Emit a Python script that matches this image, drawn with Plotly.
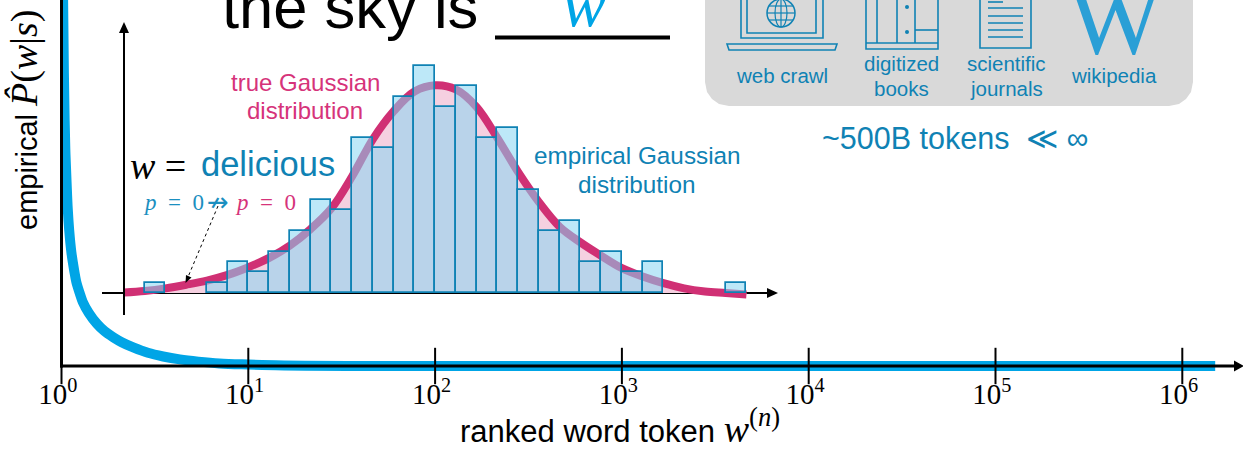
import plotly.graph_objects as go

W, H = 1243, 450

# --- data ---
rank = [1, 1.01, 1.02, 1.03, 1.04, 1.05, 1.065, 1.08, 1.1, 1.13, 1.17, 1.2, 1.25, 1.3, 1.4, 1.55, 1.7, 1.9, 2.1, 2.44, 2.9, 3.5, 4.3, 5.4, 7, 10, 14, 20, 50, 100, 1000, 10000, 100000, 1000000, 1500000]
prob = [1.6, 1.3, 1.0, 0.8, 0.67, 0.58, 0.5, 0.43, 0.37, 0.31, 0.26, 0.23, 0.2, 0.175, 0.145, 0.115, 0.095, 0.078, 0.065, 0.05, 0.036, 0.026, 0.018, 0.012, 0.007, 0.004, 0.002, 0.001, 0, 0, 0, 0, 0, 0, 0]
decades = [1, 10, 100, 1000, 10000, 100000, 1000000]
decade_base = [0, 0, 0, 0, 0, 0, 0]
decade_labels = ["10<sup>0</sup>", "10<sup>1</sup>", "10<sup>2</sup>", "10<sup>3</sup>", "10<sup>4</sup>", "10<sup>5</sup>", "10<sup>6</sup>"]
bin_index = list(range(29))
bin_counts = [1, 0, 0, 1, 3, 2, 4, 6, 9, 8, 15, 14, 19, 22, 18, 20, 15, 16, 10, 6, 7, 3, 4, 2, 3, 0, 0, 0, 1]
true_u = [-1, 0, 1, 2, 3, 4, 5, 6, 7, 8, 9, 10, 11, 12, 13, 14, 15, 16, 17, 18, 19, 20, 21, 22, 23, 24, 25, 26, 27, 28, 29]
true_v = [0.05, 0.2, 0.45, 0.8, 1.2, 1.75, 2.5, 3.4, 4.6, 6.2, 8.2, 11.3, 14.9, 17.6, 19.5, 20.1, 19.7, 18.0, 15.0, 11.7, 8.8, 6.4, 4.9, 3.6, 2.4, 1.6, 0.95, 0.45, 0.15, 0.0, -0.15]

PINK = "#d03074"
TEAL = "#0f82b4"
BLUE = "#00a5e6"
SANS = "Liberation Sans, Arial, sans-serif"
MATH = "Liberation Serif, serif"

def px(x): return x / W
def py(y): return 1 - y / H

fig = go.Figure()

# main Zipf curve
fig.add_trace(go.Scatter(x=rank, y=prob, mode="lines", line=dict(color=BLUE, width=10, shape="spline"),
                         cliponaxis=False, showlegend=False, hoverinfo="skip"))
# ticks crossing the main axis
fig.add_trace(go.Scatter(x=decades, y=decade_base, mode="markers", cliponaxis=False,
                         marker=dict(symbol="line-ns", size=26, line=dict(color="black", width=2)),
                         showlegend=False, hoverinfo="skip"))
# true Gaussian (below bars)
fig.add_trace(go.Scatter(x=true_u, y=true_v, mode="lines", line=dict(color=PINK, width=8, shape="spline"),
                         fill="tozeroy", fillcolor="rgba(245,208,224,1)", xaxis="x2", yaxis="y2",
                         cliponaxis=False, showlegend=False, hoverinfo="skip"))
# empirical histogram (above curve)
bx = [i + 0.5 for i, c in zip(bin_index, bin_counts) if c > 0]
by = [c for c in bin_counts if c > 0]
fig.add_trace(go.Bar(x=bx, y=by, width=1, marker=dict(color="rgba(135,213,242,0.55)", line=dict(color=TEAL, width=1.7)),
                     xaxis="x3", yaxis="y3", showlegend=False, hoverinfo="skip"))

x0_main, y_zero, y_bottom = 61.5, 366, 374
log_right = (W - x0_main) / 186.8
u_left = (124 - 144.7) / 20.75
u_right = (777 - 144.7) / 20.75
v_bot = (293 - 315) / 10.33
v_top = (293 - 24) / 10.33
inset_x = [px(124), px(777)]
inset_y = [py(315), py(24)]
uv = dict(range=[u_left, u_right], domain=inset_x, visible=False, fixedrange=True)
vv = dict(range=[v_bot, v_top], domain=inset_y, visible=False, fixedrange=True)

fig.update_layout(
    width=W, height=H, margin=dict(l=0, r=0, t=0, b=0, autoexpand=False), autosize=False,
    paper_bgcolor="white", plot_bgcolor="rgba(0,0,0,0)", bargap=0, showlegend=False,
    xaxis=dict(type="log", domain=[px(x0_main), 1], range=[0, log_right], showgrid=False, zeroline=False,
               showline=False, ticks="", tickmode="array", tickvals=decades,
               ticktext=[t + "\u00a0" for t in decade_labels], ticklabelstandoff=0,
               tickfont=dict(family=MATH, size=29, color="black"), fixedrange=True),
    yaxis=dict(domain=[py(y_bottom), 1], range=[-(y_bottom - y_zero) / y_zero, 1], showgrid=False, zeroline=False,
               showline=False, ticks="", showticklabels=False, fixedrange=True),
    xaxis2=dict(anchor="y2", **uv), yaxis2=dict(anchor="x2", **vv),
    xaxis3=dict(anchor="y3", **uv), yaxis3=dict(anchor="x3", **vv),
)

def line(x0, y0, x1, y1, color="black", width=2, dash="solid", layer="above"):
    return dict(type="line", xref="paper", yref="paper", x0=px(x0), y0=py(y0), x1=px(x1), y1=py(y1),
                line=dict(color=color, width=width, dash=dash), layer=layer)

def poly(points, color, layer="above"):
    d = "M" + " L".join(f"{px(a):.5f},{py(b):.5f}" for a, b in points) + " Z"
    return dict(type="path", xref="paper", yref="paper", path=d, fillcolor=color, line=dict(width=0), layer=layer)

def rect(x0, y0, x1, y1, color=TEAL, width=1.6):
    return dict(type="rect", xref="paper", yref="paper", x0=px(x0), y0=py(y0), x1=px(x1), y1=py(y1),
                line=dict(color=color, width=width), fillcolor="rgba(0,0,0,0)")

shapes = []
panel = [(705, -5), (705, 82), (707, 92), (712, 99), (719, 104), (729, 106), (1169, 106), (1179, 104), (1186, 99), (1191, 92), (1193, 82), (1193, -5)]
shapes.append(poly(panel, "#d9d9d9", layer="below"))
shapes.append(line(495, 37.5, 670, 37.5, width=4))
shapes.append(line(61.5, -5, 61.5, 367.5, width=3))
shapes.append(line(60, 366, 1236, 366, width=3))
shapes.append(line(124, 315, 124, 30))
shapes.append(poly([(119, 33), (129, 33), (124, 22)], "black"))
shapes.append(line(102, 293, 770, 293, layer="below"))
shapes.append(poly([(767, 288), (767, 298), (778, 293)], "black"))
shapes.append(poly([(1234, 360.5), (1234, 371.5), (1244, 366)], "black"))
shapes.append(line(218, 206, 188, 277, width=1, dash="dot"))
shapes.append(poly([(185.5, 283), (186, 275), (191.5, 277.5)], "black"))

# laptop icon
shapes += [rect(741, -5, 823, 38), rect(747, -5, 816, 33)]
shapes.append(dict(type="path", xref="paper", yref="paper", fillcolor="rgba(0,0,0,0)", line=dict(color=TEAL, width=1.6),
                   path=f"M{px(727):.5f},{py(44):.5f} L{px(837):.5f},{py(44):.5f} L{px(835):.5f},{py(50):.5f} L{px(729):.5f},{py(50):.5f} Z"))
shapes.append(dict(type="circle", xref="paper", yref="paper", x0=px(767), x1=px(795), y0=py(27), y1=py(-1),
                   line=dict(color=TEAL, width=1.5)))
shapes.append(dict(type="circle", xref="paper", yref="paper", x0=px(775), x1=px(787), y0=py(27), y1=py(-1),
                   line=dict(color=TEAL, width=1.2)))
shapes += [line(767, 13, 795, 13, TEAL, 1.2), line(781, -1, 781, 27, TEAL, 1.2), line(769, 6, 793, 6, TEAL, 1.2), line(769, 20, 793, 20, TEAL, 1.2)]
# books icon
shapes += [rect(866, -5, 938, 49)]
shapes += [line(877, -5, 877, 43, TEAL, 1.6), line(897, -5, 897, 43, TEAL, 1.6), line(915, -5, 915, 43, TEAL, 1.6),
           line(866, 43, 938, 43, TEAL, 1.6), line(915, 30, 938, 30, TEAL, 1.6)]
for cy in (7, 32):
    shapes.append(dict(type="circle", xref="paper", yref="paper", x0=px(905), x1=px(909), y0=py(cy + 2), y1=py(cy - 2),
                       fillcolor=TEAL, line=dict(width=0)))
# document icon
shapes.append(rect(980, -5, 1031, 48))
for i, ly in enumerate((2, 8, 16, 23, 30, 37)):
    shapes.append(line(988, ly, 1003 if i == 0 else 1023, ly, TEAL, 1.6))
fig.update_layout(shapes=shapes)

def note(x, y, text, size, color="black", family=SANS, anchor="center", yanchor="middle", angle=0):
    fig.add_annotation(xref="paper", yref="paper", x=px(x), y=py(y), text=text, showarrow=False,
                       xanchor=anchor, yanchor=yanchor, textangle=angle, borderpad=0, borderwidth=0,
                       font=dict(family=family, size=size, color=color))

def math(s, size=None):
    extra = f";font-size:{size}px" if size else ""
    return f'<span style="font-family:{MATH}{extra}">{s}</span>'

EN = "\u2002"
note(222, 7, "the sky is", 61.5, anchor="left")
note(584, 3, "<i>w</i>", 66, "#00a5e6", MATH)
note(1115, 19.4, "W", 100, "#2a9fd6", MATH)
note(782, 76, "web crawl", 20.5, TEAL)
note(901, 63.5, "digitized", 20.5, TEAL)
note(901, 88.5, "books", 20.5, TEAL)
note(1006, 63.5, "scientific", 20.5, TEAL)
note(1006, 88.5, "journals", 20.5, TEAL)
note(1114, 76, "wikipedia", 20.5, TEAL)
note(822, 138, "~500B tokens\u00a0\u00a0\u226a\u00a0\u221e", 30.5, TEAL, anchor="left")
note(305, 83, "true Gaussian", 24, "#d6337a")
note(305, 110, "distribution", 24, "#d6337a")
note(637, 155, "empirical Gaussian", 24.3, TEAL)
note(637, 184, "distribution", 24.3, TEAL)
note(130, 166, "<i>w</i> =", 38, "black", MATH, anchor="left")
note(201, 164, "delicious", 34.5, TEAL, anchor="left")
note(143, 202, f"<i>p</i>{EN}={EN}0", 23, "#1b8fc0", MATH, anchor="left")
note(218, 202, "\u219b", 26, "#1b8fc0", "DejaVu Sans")
note(235, 202, f"<i>p</i>{EN}={EN}0", 23, "#d6337a", MATH, anchor="left")
note(620, 425.5, "ranked word token " + math("<i>w</i><sup>(<i>n</i>)</sup>", 38), 31)
note(25, 120, "empirical " + math("<i>P\u0302</i>(<i>w</i>|<i>s</i>)", 38), 29, angle=-90)

fig.write_html("out.html", config=dict(displayModeBar=False),
               post_script="document.body.style.margin='0';document.body.style.overflow='hidden';")
